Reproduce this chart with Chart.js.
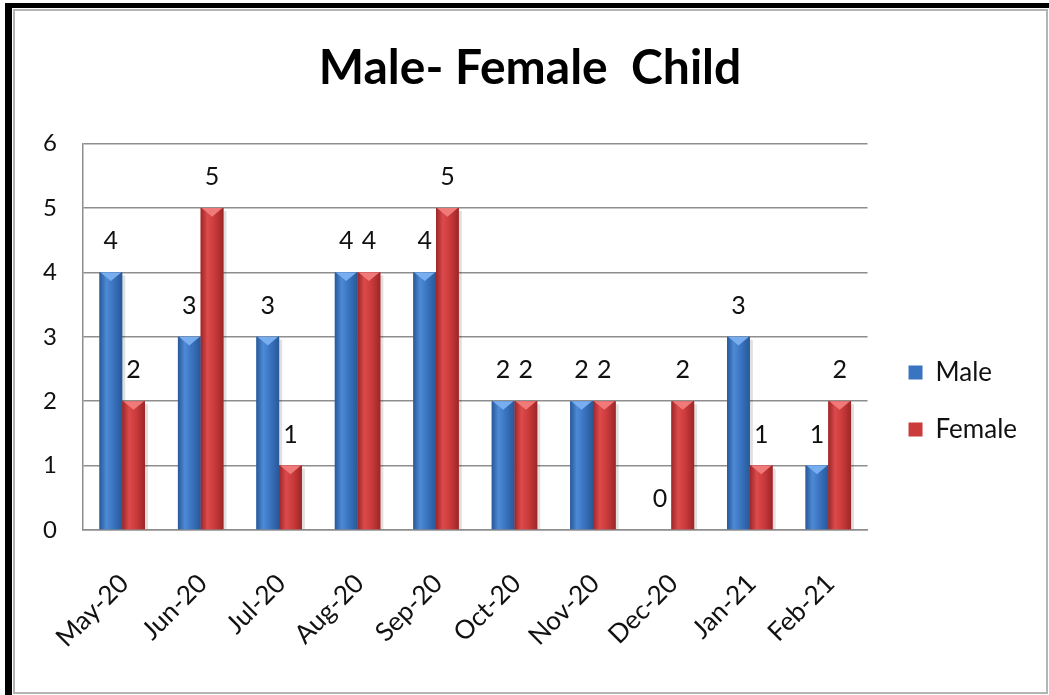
<!DOCTYPE html>
<html lang="en">
<head>
<meta charset="UTF-8">
<title>Male- Female Child</title>
<script src="https://cdn.jsdelivr.net/npm/chart.js@4.4.0/dist/chart.umd.min.js"></script>
<style>
  body { margin: 0; background: #fff; }
  #frame { position: absolute; left: 5px; top: 3px; width: 1044px; height: 692px;
           border-top: 5px solid #000; border-left: 7px solid #000; box-sizing: border-box; }
  #inner { position: absolute; left: 1px; top: 1px; right: 1px; bottom: 1px;
           border: 2px solid #b4b4b4; box-sizing: border-box; background: #fff; }
  #chart1 { position: absolute; left: 0; top: 0; }
</style>
</head>
<body>
<div id="frame"><div id="inner"><canvas id="chart1" width="1030" height="678"></canvas></div></div>
<script>
  // valeurs
  const months = ['May-20', 'Jun-20', 'Jul-20', 'Aug-20', 'Sep-20', 'Oct-20', 'Nov-20', 'Dec-20', 'Jan-21', 'Feb-21'];
  const male = [4, 3, 3, 4, 4, 2, 2, 0, 3, 1];
  const female = [2, 5, 1, 4, 5, 2, 2, 2, 1, 2];
  const yTicks = [0, 1, 2, 3, 4, 5, 6];

  const FONT = 'Lato, "Liberation Sans", sans-serif';

  // couleurs (base, bord sombre, clair, biseau)
  const shades = {
    Male: { base: '#3a74c0', dark: '#285898', light: '#4d8ad6', bevel: '#78aef0' },
    Female: { base: '#cc3b3c', dark: '#9c2627', light: '#dc4a4c', bevel: '#f07a7a' }
  };

  // effet 3D des barres, dessiné sur la géométrie calculée par Chart.js
  const bevelBars = {
    id: 'bevelBars',
    afterDatasetsDraw(chart) {
      const ctx = chart.ctx;
      chart.data.datasets.forEach((ds, i) => {
        const c = shades[ds.label];
        chart.getDatasetMeta(i).data.forEach((bar) => {
          const w = bar.width, left = bar.x - w / 2, top = bar.y, h = bar.base - bar.y;
          if (h <= 0) return;
          ctx.save();
          // ombre légère
          ctx.fillStyle = 'rgba(0,0,0,0.12)';
          ctx.fillRect(left + w, top + 3, 3, h - 3);
          const g = ctx.createLinearGradient(left, 0, left + w, 0);
          g.addColorStop(0, c.dark);
          g.addColorStop(0.3, c.light);
          g.addColorStop(0.6, c.base);
          g.addColorStop(1, c.dark);
          ctx.fillStyle = g;
          ctx.fillRect(left, top, w, h);
          const t = Math.min(w * 0.38, h);
          ctx.fillStyle = c.bevel;
          ctx.beginPath();
          ctx.moveTo(left + 1, top);
          ctx.lineTo(left + w - 1, top);
          ctx.lineTo(bar.x, top + t);
          ctx.closePath();
          ctx.fill();
          ctx.restore();
        });
      });
    }
  };

  // étiquettes des valeurs au-dessus des barres
  const valueLabels = {
    id: 'valueLabels',
    afterDatasetsDraw(chart) {
      const ctx = chart.ctx;
      ctx.save();
      ctx.font = '25px ' + FONT;
      ctx.fillStyle = '#111';
      ctx.textAlign = 'center';
      ctx.textBaseline = 'middle';
      chart.data.datasets.forEach((ds, i) => {
        chart.getDatasetMeta(i).data.forEach((bar, j) => {
          ctx.fillText(String(ds.data[j]), bar.x, bar.y - 31);
        });
      });
      ctx.restore();
    }
  };

  const data = {
    labels: months,
    datasets: [
      { label: 'Male', data: male, backgroundColor: shades.Male.base, borderColor: shades.Male.dark, borderWidth: 0 },
      { label: 'Female', data: female, backgroundColor: shades.Female.base, borderColor: shades.Female.dark, borderWidth: 0 }
    ]
  };

  const gridColor = '#8e8e8e';

  new Chart(document.getElementById('chart1'), {
    type: 'bar',
    data: data,
    plugins: [bevelBars, valueLabels],
    options: {
      responsive: false,
      animation: false,
      categoryPercentage: 0.58,
      barPercentage: 1,
      layout: { padding: { left: 18, right: 18 } },
      scales: {
        x: {
          grid: { display: false },
          border: { display: true, color: gridColor, width: 1.5 },
          ticks: { color: '#111', font: { family: FONT, size: 26 }, minRotation: 45, maxRotation: 45, padding: 30, labelOffset: 2 },
          afterFit: (s) => { s.height = 159; }
        },
        y: {
          min: 0,
          max: 6,
          afterBuildTicks: (s) => { s.ticks = yTicks.map((v) => ({ value: v })); },
          grid: { color: gridColor, lineWidth: 1.5, drawTicks: false },
          border: { display: true, color: gridColor, width: 1.5 },
          ticks: { color: '#111', font: { family: FONT, size: 24 }, padding: 26 },
          afterFit: (s) => { s.width = 50; }
        },
        // axe vide : espace entre le graphique et la légende
        gap: {
          position: 'right',
          grid: { display: false },
          border: { display: false },
          ticks: { display: false },
          afterFit: (s) => { s.width = 10; }
        }
      },
      plugins: {
        title: {
          display: true,
          text: 'Male- Female  Child',
          color: '#000',
          font: { family: FONT, size: 48, weight: 'bold' },
          padding: { top: 29, bottom: 46 }
        },
        legend: {
          position: 'right',
          title: { display: true, text: '', font: { size: 20 }, padding: { top: 78, bottom: 0 } },
          labels: {
            color: '#111',
            font: { family: FONT, size: 26 },
            boxWidth: 14,
            boxHeight: 14,
            padding: 31
          }
        },
        tooltip: { enabled: false }
      }
    }
  });
</script>
</body>
</html>
